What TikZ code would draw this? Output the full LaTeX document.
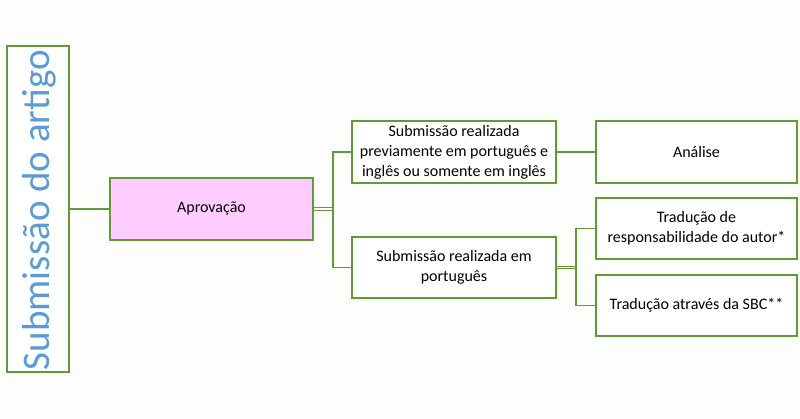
\documentclass[tikz,border=0pt]{standalone}
\usepackage{fontspec}
\setmainfont{Carlito}
\definecolor{bord}{RGB}{98,154,58}
\definecolor{pinkfill}{RGB}{255,204,255}
\definecolor{bluetext}{RGB}{91,155,213}
\definecolor{bgc}{RGB}{253,253,251}
\begin{document}
\begin{tikzpicture}[x=1pt,y=-1pt,
  box/.style={draw=bord,line width=1.2pt,fill=white,inner sep=0pt,align=center,font=\fontsize{16}{20}\selectfont},
  conn/.style={draw=bord,line width=1.2pt}]
\fill[bgc] (0,0) rectangle (800,419);
\useasboundingbox (0,0) rectangle (800,419);
\node[box,minimum width=62pt,minimum height=326pt] (sub) at (38,209) {};
\node[rotate=90,text=bluetext,font=\fontsize{39}{44}\selectfont] (subt) at (39,210) {Submissão do artigo};
\node[box,fill=pinkfill,minimum width=203pt,minimum height=62pt] (apr) at (211.5,209) {Aprovação};
\node[box,minimum width=204pt,minimum height=62pt] (b1) at (454,152) {Submissão realizada\\previamente em português e\\inglês ou somente em inglês};
\node[box,minimum width=204pt,minimum height=61pt] (b2) at (454,267.5) {Submissão realizada em\\português};
\node[box,minimum width=201pt,minimum height=62pt] (ana) at (696.5,152) {Análise};
\node[box,minimum width=201pt,minimum height=61pt] (t1) at (696.5,228.5) {Tradução de\\responsabilidade do autor*};
\node[box,minimum width=201pt,minimum height=61pt] (t2) at (696.5,305.5) {Tradução através da SBC**};
\coordinate (j1) at (333,0);
\coordinate (j2) at (576,0);
\draw[conn] (sub.east) -- (apr.west);
\draw[conn] ([yshift=-1.5pt]apr.east) -- ([yshift=-1.5pt]apr.east -| j1) |- (b1.west);
\draw[conn] ([yshift=1.5pt]apr.east) -- ([yshift=1.5pt]apr.east -| j1) |- (b2.west);
\draw[conn] (b1.east) -- (ana.west);
\draw[conn] ([yshift=-1pt]b2.east) -- ([yshift=-1pt]b2.east -| j2) |- (t1.west);
\draw[conn] ([yshift=1pt]b2.east) -- ([yshift=1pt]b2.east -| j2) |- (t2.west);
\end{tikzpicture}
\end{document}
